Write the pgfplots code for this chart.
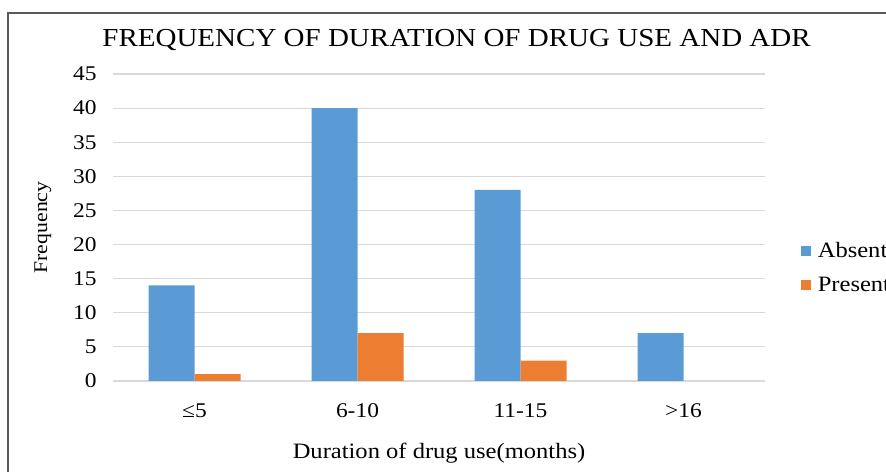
\documentclass[border=0pt]{standalone}
\usepackage{fontspec}
\setmainfont{Liberation Serif}[FakeStretch=1.12]
\usepackage{pgfplots}
\pgfplotsset{compat=1.18}
\definecolor{absentc}{HTML}{5B9BD5}
\definecolor{presentc}{HTML}{ED7D31}
\definecolor{gridc}{HTML}{D9D9D9}
\definecolor{framec}{HTML}{5A5A5A}
\begin{document}
\begin{tikzpicture}[x=1bp,y=1bp]
\useasboundingbox (0,0) rectangle (886,472);
\draw[framec, line width=2.5bp] (8,-20) -- (8,459) -- (900,459);
\begin{axis}[
  at={(113bp,91bp)}, anchor=south west,
  scale only axis, width=652bp, height=307bp,
  ybar=0pt, bar width=46bp,
  xmin=-0.5, xmax=3.5, ymin=0, ymax=45,
  ytick={0,5,...,45},
  xtick=data, xticklabels={≤5,6-10,11-15,>16},
  axis x line*=bottom, axis y line*=left,
  x axis line style={gridc, line width=1.5bp},
  y axis line style={draw=none},
  ymajorgrids, grid style={gridc, line width=1.2bp},
  major tick length=0pt,
  /pgf/number format/assume math mode=true,
  tick label style={font=\fontsize{21}{24}\selectfont},
  yticklabel style={xshift=-13bp},
  xticklabel style={yshift=-19bp},
  title={FREQUENCY OF DURATION OF DRUG USE AND ADR},
  title style={font=\fontsize{26}{30}\selectfont, at={(0.527,1)}, yshift=14bp},
  ylabel={Frequency}, ylabel style={font=\fontsize{19.5}{24}\selectfont, yshift=15bp},
  xlabel={Duration of drug use(months)}, xlabel style={font=\fontsize{22}{26}\selectfont, yshift=-19bp},
  legend style={draw=none, fill=none, at={(1.05,0.368)}, anchor=west,
    font=\fontsize{22}{24}\selectfont, row sep=14bp,
    /tikz/every even column/.append style={column sep=2bp}},
  legend cell align=left,
  legend image code/.code={\fill[#1] (0bp,-5bp) rectangle (10bp,5bp); \path (15bp,0bp);},
  clip=false,
]
\addplot[fill=absentc, draw=none] coordinates {(0,14) (1,40) (2,28) (3,7)};
\addplot[fill=presentc, draw=none] coordinates {(0,1) (1,7) (2,3)};
\legend{Absent,Present}
\end{axis}
\end{tikzpicture}
\end{document}
